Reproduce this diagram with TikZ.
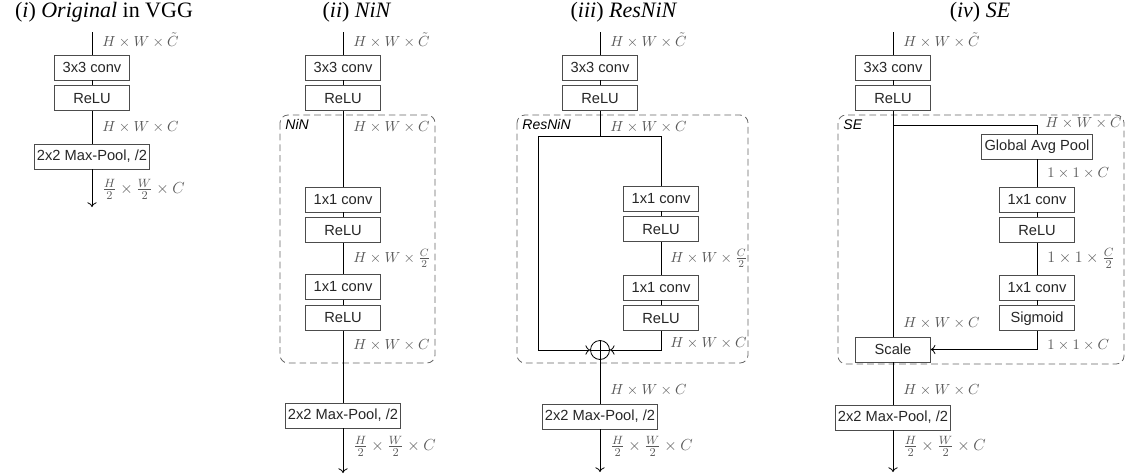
\documentclass[tikz,border=0pt]{standalone}
\usepackage[no-math]{fontspec}
\setmainfont{Liberation Serif}
\setsansfont{Liberation Sans}
\usetikzlibrary{positioning,arrows.meta}
\definecolor{boxline}{gray}{0.3}
\definecolor{dimtext}{gray}{0.35}
\definecolor{grpline}{gray}{0.4}

\begin{document}
\begin{tikzpicture}[x=0.75pt,y=-0.75pt,line width=0.6pt,>={To[length=3.5pt,width=7pt]},
  layer/.style={draw=boxline,minimum width=56pt,minimum height=18.75pt,inner sep=2pt,font=\sffamily\fontsize{11}{13}\selectfont,text=black!85},
  dim/.style={anchor=west,inner sep=0pt,text=dimtext,font=\fontsize{11}{13}\selectfont},
  fracdim/.style={dim,font=\fontsize{12.5}{14}\selectfont},
  group/.style={draw=grpline,dash pattern=on 5pt off 3pt,rounded corners=6pt},
  grouplabel/.style={anchor=north west,inner sep=0pt,font=\sffamily\itshape\fontsize{10.5}{12}\selectfont},
  title/.style={font=\fontsize{16.5}{18}\selectfont}]
\useasboundingbox (0,0) rectangle (1126,475);

% (i) Original
\node[title] (ttla) at (104,12) {(\textit{i}) \textit{Original} in VGG};
\coordinate (ain) at (92,32);
\node[layer] (aconv) at (92,67.5) {3x3 conv};
\node[layer,below=3.75pt of aconv] (arelu) {ReLU};
\node[layer] (apool) at (92,156.5) {2x2 Max-Pool, /2};
\coordinate (aout) at (92,207);
\draw (ain) -- (aconv);
\draw (aconv) -- (arelu);
\draw (arelu) -- (apool);
\draw[->] (apool) -- (aout);
\node[dim] (adima) at (102,40) {$H\times W\times\tilde{C}$};
\node[dim] (adimb) at (102,127) {$H\times W\times C$};
\node[fracdim] (adimc) at (102,189) {$\frac{H}{2}\times\frac{W}{2}\times C$};

% (ii) NiN
\node[title] (ttlb) at (357,12) {(\textit{ii}) \textit{NiN}};
\draw[group] (280,115) rectangle (435,363);
\node[grouplabel] (bgrp) at (285,119) {NiN};
\coordinate (bin) at (343,32);
\node[layer] (bconv) at (343,67.5) {3x3 conv};
\node[layer,below=3.75pt of bconv] (brelu) {ReLU};
\node[layer] (bconva) at (343,199.5) {1x1 conv};
\node[layer,below=3.75pt of bconva] (brelua) {ReLU};
\node[layer] (bconvb) at (343,287) {1x1 conv};
\node[layer,below=3.75pt of bconvb] (brelub) {ReLU};
\node[layer] (bpool) at (343,415.5) {2x2 Max-Pool, /2};
\coordinate (bout) at (343,473);
\draw (bin) -- (bconv);
\draw (bconv) -- (brelu);
\draw (brelu) -- (bconva);
\draw (bconva) -- (brelua);
\draw (brelua) -- (bconvb);
\draw (bconvb) -- (brelub);
\draw (brelub) -- (bpool);
\draw[->] (bpool) -- (bout);
\node[dim] (bdima) at (353,40) {$H\times W\times\tilde{C}$};
\node[dim] (bdimb) at (353,127) {$H\times W\times C$};
\node[dim] (bdimc) at (353,258) {$H\times W\times\frac{C}{2}$};
\node[dim] (bdimd) at (353,345) {$H\times W\times C$};
\node[fracdim] (bdime) at (353,446) {$\frac{H}{2}\times\frac{W}{2}\times C$};

% (iii) ResNiN
\node[title] (ttlc) at (624,12) {(\textit{iii}) \textit{ResNiN}};
\draw[group] (517,115) rectangle (748,363);
\node[grouplabel] (cgrp) at (522,119) {ResNiN};
\coordinate (cin) at (600,32);
\node[layer] (cconv) at (600,67.5) {3x3 conv};
\node[layer,below=3.75pt of cconv] (crelu) {ReLU};
\coordinate (csplit) at (600,136);
\coordinate (cleft) at (538,136);
\coordinate (cright) at (661,136);
\node[layer] (cconva) at (661,198.5) {1x1 conv};
\node[layer,below=3.75pt of cconva] (crelua) {ReLU};
\node[layer] (cconvb) at (661,287.5) {1x1 conv};
\node[layer,below=3.75pt of cconvb] (crelub) {ReLU};
\node[draw,circle,minimum size=14.25pt,inner sep=0pt] (cadd) at (600,350) {};
\node[layer] (cpool) at (600,416.5) {2x2 Max-Pool, /2};
\coordinate (cout) at (600,472);
\draw (cin) -- (cconv);
\draw (cconv) -- (crelu);
\draw (crelu) -- (csplit);
\draw (cleft) -- (cright) -- (cconva);
\draw (cconva) -- (crelua);
\draw (crelua) -- (cconvb);
\draw (cconvb) -- (crelub);
\draw[->] (cleft) |- (cadd);
\draw[->] (crelub) |- (cadd);
\draw (cadd.north) -- (cadd.south) (cadd.west) -- (cadd.east);
\draw (cadd) -- (cpool);
\draw[->] (cpool) -- (cout);
\node[dim] (cdima) at (610,40) {$H\times W\times\tilde{C}$};
\node[dim] (cdimb) at (610,127) {$H\times W\times C$};
\node[dim] (cdimc) at (670,258) {$H\times W\times\frac{C}{2}$};
\node[dim] (cdimd) at (670,343) {$H\times W\times C$};
\node[dim] (cdime) at (610,390) {$H\times W\times C$};
\node[fracdim] (cdimf) at (610,446) {$\frac{H}{2}\times\frac{W}{2}\times C$};

% (iv) SE
\node[title] (ttld) at (980,12) {(\textit{iv}) \textit{SE}};
\draw[group] (838,115) rectangle (1124,364);
\node[grouplabel] (dgrp) at (843,119) {SE};
\coordinate (din) at (893,32);
\node[layer] (dconv) at (893,67.5) {3x3 conv};
\node[layer,below=3.75pt of dconv] (drelu) {ReLU};
\coordinate (dsplit) at (893,125);
\node[layer] (dgap) at (1037,146.5) {Global Avg Pool};
\node[layer] (dconva) at (1037,199.5) {1x1 conv};
\node[layer,below=3.75pt of dconva] (drelua) {ReLU};
\node[layer] (dconvb) at (1037,287.5) {1x1 conv};
\node[layer,below=3.75pt of dconvb] (dsig) {Sigmoid};
\node[layer] (dscale) at (893,349.5) {Scale};
\node[layer] (dpool) at (893,417.5) {2x2 Max-Pool, /2};
\coordinate (dout) at (893,472);
\draw (din) -- (dconv);
\draw (dconv) -- (drelu);
\draw (drelu) -- (dscale);
\draw (dsplit) -| (dgap);
\draw (dgap) -- (dconva);
\draw (dconva) -- (drelua);
\draw (drelua) -- (dconvb);
\draw (dconvb) -- (dsig);
\draw[->] (dsig) |- (dscale);
\draw (dscale) -- (dpool);
\draw[->] (dpool) -- (dout);
\node[dim] (ddima) at (903,40) {$H\times W\times\tilde{C}$};
\node[dim] (ddimb) at (1045,123) {$H\times W\times C$};
\node[dim] (ddimc) at (1047,173) {$1\times 1\times C$};
\node[fracdim] (ddimd) at (1047,258) {$1\times 1\times\frac{C}{2}$};
\node[dim] (ddime) at (1047,345) {$1\times 1\times C$};
\node[dim] (ddimf) at (903,323) {$H\times W\times C$};
\node[dim] (ddimg) at (903,390) {$H\times W\times C$};
\node[fracdim] (ddimh) at (903,446) {$\frac{H}{2}\times\frac{W}{2}\times C$};
\end{tikzpicture}
\end{document}
